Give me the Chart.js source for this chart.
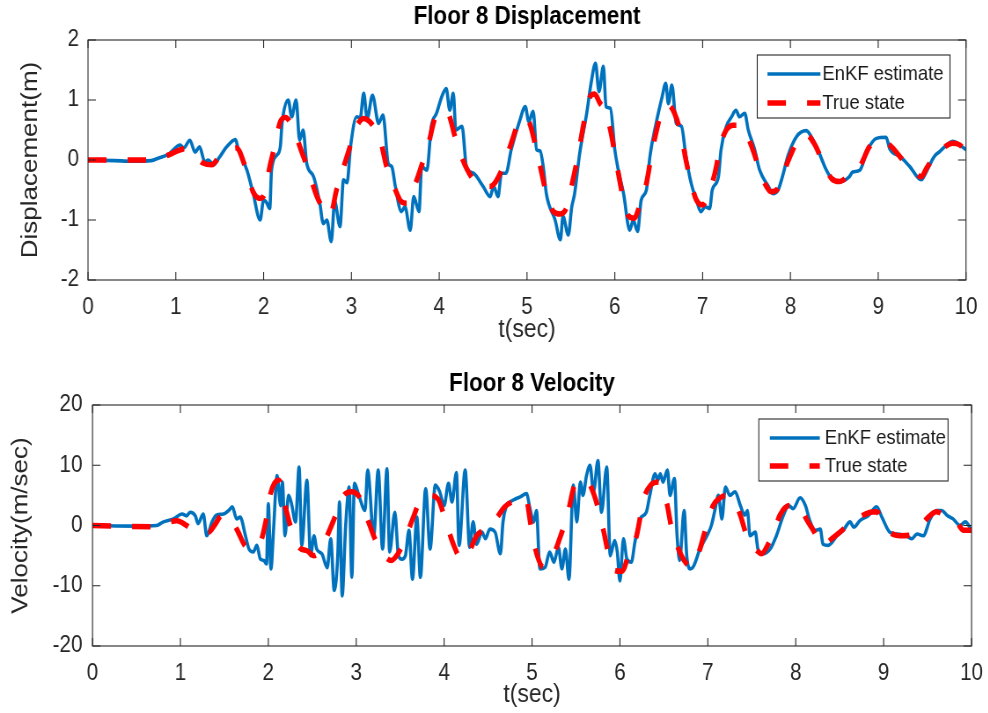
<!DOCTYPE html>
<html>
<head>
<meta charset="utf-8">
<script src="https://cdn.jsdelivr.net/npm/chart.js@4/dist/chart.umd.min.js"></script>
<style>
  html, body { margin: 0; padding: 0; background: #fff; overflow: hidden; }
  #page { width: 988px; height: 713px; overflow: hidden; }
  /* the reference figure is squeezed horizontally, so draw wider and squeeze */
  canvas { display: block; transform: scaleX(0.88); transform-origin: 0 0; }
</style>
</head>
<body>
<div id="page">
  <canvas id="dispChart" width="1123" height="356"></canvas>
  <canvas id="velChart" width="1123" height="357"></canvas>
</div>
<script>
// axis ticks
var timeTicks = [0, 1, 2, 3, 4, 5, 6, 7, 8, 9, 10];
var dispTicks = [-2, -1, 0, 1, 2];
var velTicks = [-20, -10, 0, 10, 20];
var seriesNames = ['EnKF estimate', 'True state'];

// [t (sec), displacement (m)]
var dispEstimate = [[0,0],[0.3,-0.01],[0.5,-0.02],[0.72,-0.01],[0.8,0.03],[0.92,0.1],[1.05,0.25],[1.09,0.2],[1.16,0.33],[1.22,0.13],[1.27,0.22],[1.33,-0.03],[1.37,0],[1.43,-0.08],[1.49,0.03],[1.58,0.22],[1.68,0.34],[1.71,0.19],[1.81,-0.17],[1.88,-0.55],[1.96,-1.0],[2.0,-0.67],[2.03,-0.7],[2.07,-0.81],[2.09,-0.17],[2.15,0.08],[2.19,0.22],[2.21,0.61],[2.28,1.0],[2.32,0.72],[2.37,1.0],[2.41,0.33],[2.45,0.5],[2.49,-0.05],[2.57,-0.28],[2.64,-0.72],[2.68,-1.06],[2.72,-1.0],[2.77,-1.36],[2.81,-0.69],[2.87,-1.11],[2.91,-0.33],[2.95,-0.38],[2.99,0.22],[3.06,0.72],[3.1,0.7],[3.14,1.11],[3.18,0.69],[3.24,1.08],[3.31,0.61],[3.36,0.75],[3.42,-0.06],[3.46,-0.11],[3.5,-0.44],[3.57,-0.86],[3.61,-0.78],[3.67,-1.17],[3.71,-0.61],[3.77,-0.86],[3.8,-0.11],[3.86,-0.17],[3.91,0.56],[3.97,0.78],[4.03,1.06],[4.08,1.19],[4.12,0.83],[4.16,1.11],[4.19,0.5],[4.26,0.56],[4.31,-0.11],[4.39,-0.22],[4.5,-0.44],[4.58,-0.61],[4.62,-0.44],[4.67,-0.61],[4.71,-0.22],[4.76,-0.22],[4.82,0.17],[4.92,0.67],[4.98,0.89],[5.02,0.64],[5.07,0.81],[5.11,0.17],[5.15,0.15],[5.19,-0.17],[5.22,-0.56],[5.32,-1.0],[5.38,-1.33],[5.41,-0.94],[5.47,-1.25],[5.51,-0.78],[5.54,-0.58],[5.6,0.11],[5.68,0.78],[5.73,1.28],[5.78,1.61],[5.82,1.14],[5.87,1.56],[5.9,0.89],[5.95,0.86],[6.0,0.17],[6.04,-0.17],[6.1,-0.56],[6.17,-1.17],[6.21,-1.0],[6.26,-1.19],[6.3,-0.67],[6.36,-0.5],[6.4,0.06],[6.47,0.61],[6.54,1.06],[6.58,1.28],[6.61,0.94],[6.65,1.25],[6.7,0.61],[6.76,0.56],[6.81,0.06],[6.87,-0.39],[6.93,-0.67],[6.98,-0.86],[7.03,-0.78],[7.08,-0.81],[7.11,-0.5],[7.18,-0.28],[7.21,0.17],[7.27,0.56],[7.33,0.72],[7.38,0.83],[7.42,0.72],[7.48,0.78],[7.52,0.5],[7.59,0.19],[7.65,-0.17],[7.75,-0.44],[7.8,-0.56],[7.86,-0.5],[7.92,-0.22],[7.97,0.06],[8.07,0.39],[8.18,0.49],[8.26,0.33],[8.33,0.11],[8.41,-0.17],[8.48,-0.33],[8.56,-0.36],[8.67,-0.28],[8.71,-0.2],[8.79,-0.17],[8.88,0.17],[8.98,0.36],[9.09,0.38],[9.13,0.19],[9.25,0.06],[9.36,-0.11],[9.49,-0.33],[9.55,-0.19],[9.64,0.06],[9.7,0.14],[9.78,0.25],[9.85,0.31],[9.93,0.25],[10,0.17]];
var dispTrue = [[0,0],[0.72,0],[0.89,0.07],[1.12,0.19],[1.31,-0.05],[1.41,-0.08],[1.5,0.06],[1.69,0.2],[1.79,-0.11],[1.88,-0.53],[1.96,-0.64],[2.02,-0.53],[2.07,-0.11],[2.13,0.25],[2.19,0.64],[2.25,0.71],[2.32,0.58],[2.44,0.11],[2.51,-0.17],[2.6,-0.58],[2.7,-0.86],[2.76,-0.92],[2.83,-0.5],[2.9,-0.17],[2.99,0.25],[3.06,0.56],[3.14,0.69],[3.2,0.65],[3.25,0.56],[3.33,0.33],[3.4,-0.11],[3.48,-0.42],[3.56,-0.68],[3.63,-0.72],[3.71,-0.47],[3.82,0],[3.88,0.28],[3.95,0.69],[4.03,0.82],[4.1,0.78],[4.18,0.39],[4.26,0.03],[4.39,-0.33],[4.5,-0.44],[4.58,-0.44],[4.73,-0.11],[4.82,0.28],[4.9,0.61],[4.96,0.71],[5.03,0.61],[5.09,0.28],[5.16,-0.17],[5.22,-0.56],[5.3,-0.86],[5.38,-0.9],[5.47,-0.72],[5.51,-0.42],[5.58,0.06],[5.64,0.56],[5.71,1.03],[5.77,1.1],[5.83,0.95],[5.89,0.83],[5.95,0.5],[6.02,-0.06],[6.1,-0.67],[6.15,-0.92],[6.22,-0.97],[6.3,-0.67],[6.36,-0.39],[6.42,0.11],[6.46,0.39],[6.53,0.78],[6.6,0.92],[6.68,0.78],[6.76,0.39],[6.81,0],[6.87,-0.39],[6.93,-0.67],[7.0,-0.75],[7.08,-0.5],[7.14,-0.22],[7.21,0.28],[7.27,0.5],[7.35,0.58],[7.43,0.58],[7.48,0.5],[7.56,0.22],[7.65,-0.17],[7.72,-0.42],[7.78,-0.53],[7.86,-0.47],[7.92,-0.22],[8.01,0.11],[8.11,0.39],[8.18,0.42],[8.28,0.25],[8.39,-0.11],[8.47,-0.31],[8.56,-0.36],[8.67,-0.25],[8.79,-0.11],[8.9,0.22],[8.99,0.33],[9.13,0.25],[9.28,0],[9.4,-0.17],[9.49,-0.28],[9.55,-0.14],[9.64,0.06],[9.74,0.2],[9.85,0.28],[9.93,0.25],[10,0.14]];

// [t (sec), velocity (m/sec)]
var velEstimate = [[0,0],[0.5,-0.1],[0.73,0],[0.8,0.56],[0.92,1.1],[1.02,1.9],[1.07,1.6],[1.11,2.2],[1.17,1.6],[1.2,0.3],[1.26,1.9],[1.3,-1.7],[1.36,0.6],[1.41,1.7],[1.49,1.9],[1.55,2.5],[1.59,3.1],[1.64,1.1],[1.68,1.4],[1.74,-1.7],[1.78,-3.9],[1.83,-4.4],[1.87,-3.3],[1.91,-5.6],[1.95,-5.8],[1.98,-6.4],[2.0,3.6],[2.03,-7.2],[2.06,-0.6],[2.1,8.3],[2.14,3.3],[2.16,7.2],[2.19,-1.7],[2.23,5],[2.26,3.9],[2.31,0.6],[2.35,9.7],[2.38,-3.3],[2.44,7.5],[2.48,-5],[2.52,-1.7],[2.55,-3.9],[2.61,-4.7],[2.67,-7],[2.71,-2.2],[2.75,-10.8],[2.79,-5],[2.81,3.9],[2.84,-11.7],[2.88,0],[2.92,6.4],[2.95,-8.6],[2.98,7],[3.03,5],[3.1,2.5],[3.13,9.2],[3.2,-1.7],[3.25,9.2],[3.3,-3.9],[3.35,9.4],[3.38,-4.4],[3.44,2.2],[3.48,-5],[3.52,-5.6],[3.56,-5],[3.6,-0.8],[3.64,-8.9],[3.69,1.4],[3.73,-8.6],[3.79,6.1],[3.84,-3.9],[3.9,6.7],[3.95,5.6],[4.0,3.3],[4.05,7],[4.09,3.9],[4.14,8.8],[4.17,-3.3],[4.24,9.2],[4.29,-3.6],[4.33,0.6],[4.37,-3.1],[4.43,-1.1],[4.47,-2.2],[4.52,-0.6],[4.58,-1.1],[4.64,-4.7],[4.67,0.6],[4.71,3.3],[4.75,3.9],[4.81,4.4],[4.86,4.7],[4.94,5.3],[4.97,3.3],[5.02,0.6],[5.05,2.5],[5.09,-7.2],[5.15,-6.9],[5.2,-4.4],[5.25,-6.1],[5.3,-3.6],[5.34,-7.2],[5.38,-3.9],[5.42,-8.9],[5.47,6.7],[5.51,0.6],[5.55,7.2],[5.58,5],[5.62,8.3],[5.66,10],[5.7,5.6],[5.75,10.8],[5.79,2.2],[5.85,9.7],[5.89,-5],[5.94,-2.5],[5.97,-4.4],[6.0,-9.2],[6.04,-2.2],[6.08,-5.6],[6.13,-6.1],[6.17,-2.8],[6.23,1.1],[6.3,2.2],[6.34,5],[6.4,8.6],[6.43,7.5],[6.46,8.6],[6.49,7.2],[6.54,9.2],[6.57,5],[6.62,7.8],[6.65,-1.7],[6.68,-5.8],[6.73,2.5],[6.76,-5],[6.8,-7.2],[6.84,-6.7],[6.91,-3.9],[6.99,-1.7],[7.04,0],[7.08,2.5],[7.12,5],[7.16,1.1],[7.2,6.4],[7.25,5],[7.31,5.6],[7.37,3.3],[7.42,1.7],[7.45,2.5],[7.48,-1.7],[7.54,-1.1],[7.57,-3.9],[7.63,-4.7],[7.71,-3.9],[7.78,-1.7],[7.86,1.7],[7.92,3.3],[7.97,2.8],[8.05,4.6],[8.11,3.3],[8.16,0.8],[8.22,-0.8],[8.28,-0.6],[8.31,-3.1],[8.37,-3.3],[8.47,-1.7],[8.54,-0.8],[8.62,0.6],[8.66,-0.3],[8.73,0.8],[8.83,1.7],[8.92,3.1],[8.98,1.4],[9.07,-1.1],[9.15,-1.4],[9.26,-1.7],[9.32,-2.2],[9.38,-1.4],[9.45,-1.7],[9.53,1.1],[9.6,2.5],[9.66,2.5],[9.72,1.7],[9.79,1.1],[9.87,0],[9.93,0.6],[10,-0.8]];
var velTrue = [[0,0],[0.7,-0.2],[0.8,0.2],[0.96,0.8],[1.07,0],[1.13,-0.6],[1.2,-1.0],[1.32,-1.1],[1.4,0.3],[1.47,1.7],[1.55,1.5],[1.64,-0.6],[1.76,-3.6],[1.83,-3.6],[1.91,-2.8],[1.97,0.6],[2.02,5],[2.07,7],[2.12,7.5],[2.19,3.3],[2.25,0],[2.35,-3.6],[2.44,-4.2],[2.52,-5],[2.6,-4],[2.67,-1.7],[2.75,1.1],[2.86,5],[2.95,5.6],[3.05,4.4],[3.14,0.6],[3.23,-2.8],[3.32,-5],[3.4,-5.8],[3.47,-4.8],[3.54,-2.8],[3.65,1.4],[3.73,4.2],[3.83,5],[3.93,4.4],[4.01,1.1],[4.11,-3.3],[4.2,-5.6],[4.28,-4.5],[4.37,-1.7],[4.5,-0.3],[4.6,1.3],[4.69,3.1],[4.86,4.4],[4.93,4.6],[4.98,0.6],[5.02,-2.8],[5.13,-6.9],[5.22,-5.6],[5.34,-1.1],[5.41,2.2],[5.49,6.9],[5.58,7.5],[5.66,6.7],[5.76,2.5],[5.81,-0.6],[5.87,-4.7],[5.94,-7.5],[6.02,-7.6],[6.11,-4.4],[6.19,-1.7],[6.27,4.4],[6.35,6.7],[6.44,7.2],[6.53,3.9],[6.59,-0.6],[6.65,-3.3],[6.73,-5.8],[6.82,-6.9],[6.91,-3.9],[6.99,0.3],[7.06,3.3],[7.14,4.6],[7.21,5],[7.31,3.9],[7.37,1.7],[7.46,-2.5],[7.56,-4.2],[7.61,-4.7],[7.68,-3.3],[7.75,-1.1],[7.82,1.7],[7.93,3.3],[8.05,3.3],[8.12,1.1],[8.2,-0.8],[8.31,-3.3],[8.41,-2.2],[8.47,-1.5],[8.66,0.8],[8.85,2.2],[8.92,2.3],[9.0,0.3],[9.07,-1.1],[9.19,-1.7],[9.35,-1.4],[9.49,1.1],[9.6,2.3],[9.72,1.4],[9.83,0.6],[9.91,-0.8],[10,-0.8]];

var FONT = '"Liberation Sans", Arial, Helvetica, sans-serif';

function toPoints(pairs) {
    return pairs.map(function(p) { return {x: p[0], y: p[1]}; });
}

// MATLAB style box with inward ticks on all four sides
var axesBox = {
    id: 'axesBox',
    afterDraw: function(chart) {
        var ctx = chart.ctx, a = chart.chartArea;
        var xs = chart.scales.x, ys = chart.scales.y;
        ctx.save();
        ctx.strokeStyle = '#262626';
        ctx.lineWidth = 1.1;
        ctx.beginPath();
        xs.ticks.forEach(function(t) {
            var px = xs.getPixelForValue(t.value);
            ctx.moveTo(px, a.bottom); ctx.lineTo(px, a.bottom - 8);
            ctx.moveTo(px, a.top); ctx.lineTo(px, a.top + 8);
        });
        ys.ticks.forEach(function(t) {
            var py = ys.getPixelForValue(t.value);
            ctx.moveTo(a.left, py); ctx.lineTo(a.left + 9, py);
            ctx.moveTo(a.right, py); ctx.lineTo(a.right - 9, py);
        });
        ctx.stroke();
        ctx.strokeRect(a.left, a.top, a.right - a.left, a.bottom - a.top);
        ctx.restore();
    }
};

// legend drawn in a framed box inside the plot area, top right
var boxLegend = {
    id: 'boxLegend',
    afterDraw: function(chart, args, opts) {
        var ctx = chart.ctx, a = chart.chartArea;
        var x = a.right - opts.right - opts.width;
        var y = a.top + opts.top;
        ctx.save();
        ctx.fillStyle = '#fff';
        ctx.fillRect(x, y, opts.width, opts.height);
        ctx.strokeStyle = '#262626';
        ctx.lineWidth = 1.1;
        ctx.strokeRect(x, y, opts.width, opts.height);
        ctx.font = '21px ' + FONT;
        ctx.textBaseline = 'middle';
        chart.data.datasets.forEach(function(ds, i) {
            var ry = y + opts.rows[i];
            ctx.beginPath();
            ctx.strokeStyle = ds.borderColor;
            ctx.lineWidth = ds.borderWidth;
            ctx.setLineDash(ds.borderDash || []);
            ctx.moveTo(x + opts.lineStart, ry);
            ctx.lineTo(x + opts.lineEnd, ry);
            ctx.stroke();
            ctx.setLineDash([]);
            ctx.fillStyle = '#1a1a1a';
            ctx.fillText(ds.label, x + opts.textStart, ry);
        });
        ctx.restore();
    }
};

function makeChart(id, cfg) {
    var ctx = document.getElementById(id).getContext('2d');
    return new Chart(ctx, {
        type: 'line',
        data: {
            datasets: [{
                label: seriesNames[0],
                data: toPoints(cfg.estimate),
                borderColor: '#0072BD',
                borderWidth: 3.6,
                pointRadius: 0,
                cubicInterpolationMode: 'monotone',
                order: 1
            }, {
                label: seriesNames[1],
                data: toPoints(cfg.truth),
                borderColor: '#FF0000',
                borderWidth: 5.5,
                borderDash: [21, 24],
                pointRadius: 0,
                cubicInterpolationMode: 'monotone',
                order: 0
            }]
        },
        options: {
            responsive: false,
            animation: false,
            events: [],
            layout: { padding: { left: 0, right: cfg.padRight, top: 0, bottom: 0 } },
            plugins: {
                legend: { display: false },
                tooltip: { enabled: false },
                title: {
                    display: true,
                    fullSize: false,
                    text: cfg.title,
                    color: '#000',
                    font: { family: FONT, size: 25.5, weight: 'bold', lineHeight: 1.2 },
                    padding: cfg.titlePad
                },
                boxLegend: cfg.legend
            },
            scales: {
                x: {
                    type: 'linear',
                    min: 0,
                    max: 10,
                    grid: { display: false, drawTicks: false },
                    border: { display: false },
                    ticks: { color: '#262626', padding: 13.9, maxRotation: 0, font: { family: FONT, size: 23.5 } },
                    title: {
                        display: true,
                        text: 't(sec)',
                        color: '#262626',
                        font: { family: FONT, size: 26, lineHeight: 1.2 },
                        padding: { top: 0, bottom: cfg.xTitleBottom }
                    },
                    afterBuildTicks: function(s) { s.ticks = timeTicks.map(function(v) { return {value: v}; }); },
                    afterFit: function(s) {
                        s.height = cfg.xHeight;
                        // the end labels may overhang, as in the reference
                        s.paddingLeft = 0;
                        s.paddingRight = 0;
                    }
                },
                y: {
                    min: cfg.yTicks[0],
                    max: cfg.yTicks[cfg.yTicks.length - 1],
                    grid: { display: false, drawTicks: false },
                    border: { display: false },
                    ticks: { color: '#262626', padding: cfg.yTickPad, font: { family: FONT, size: 23.5 } },
                    title: {
                        display: true,
                        text: cfg.yLabel,
                        color: '#262626',
                        font: { family: FONT, size: 26, lineHeight: 1.2 },
                        padding: { top: cfg.yTitleTop, bottom: 0 }
                    },
                    afterBuildTicks: function(s) { s.ticks = cfg.yTicks.map(function(v) { return {value: v}; }); },
                    afterFit: function(s) { s.width = cfg.yWidth; }
                }
            }
        },
        plugins: [axesBox, boxLegend]
    });
}

makeChart('dispChart', {
    title: 'Floor 8 Displacement',
    yLabel: 'Displacement(m)',
    estimate: dispEstimate,
    truth: dispTrue,
    yTicks: dispTicks,
    padRight: 25.3,
    yWidth: 100,
    xHeight: 76,
    titlePad: { top: 1.2, bottom: 8.2 },
    xTitleBottom: 10.4,
    yTitleTop: 19.6,
    yTickPad: 10.2,
    legend: { right: 18.2, top: 15, width: 219, height: 63, rows: [19, 48], lineStart: 11.6, lineEnd: 71.8, textStart: 74 }
});

makeChart('velChart', {
    title: 'Floor 8 Velocity',
    yLabel: 'Velocity(m/sec)',
    estimate: velEstimate,
    truth: velTrue,
    yTicks: velTicks,
    padRight: 19,
    yWidth: 105.1,
    xHeight: 67,
    titlePad: { top: 12.2, bottom: 6.2 },
    xTitleBottom: 2.9,
    yTitleTop: 8.3,
    yTickPad: 11.4,
    legend: { right: 26.7, top: 14, width: 215, height: 62, rows: [19, 47], lineStart: 12.5, lineEnd: 69.3, textStart: 75 }
});
</script>
</body>
</html>
